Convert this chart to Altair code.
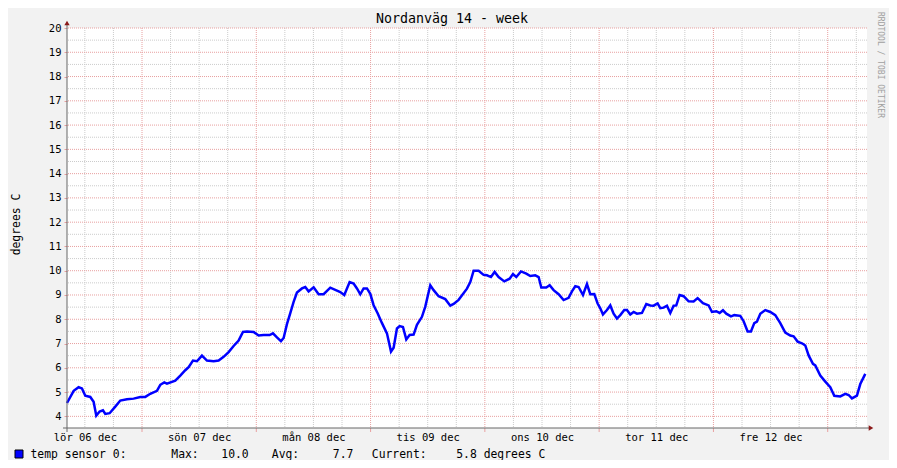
import json
import altair as alt
import pandas as pd

# ---------------- data ----------------
hours = [0, 1.4, 2.44, 3.14, 3.84, 4.89, 5.59, 6.15, 6.85, 7.55, 8.04, 8.95, 10.14, 11.19,
         12.59, 13.99, 15.39, 16.44, 17.49, 18.89, 19.59, 20.43, 20.99, 22.74, 23.79, 24.84,
         25.54, 26.45, 27.29, 28.34, 29.39, 30.79, 31.84, 32.89, 33.94, 34.99, 36.04, 36.95,
         37.79, 39.19, 40.24, 41.29, 42.55, 43.25, 44.09, 44.93, 45.49, 46.19, 46.89, 47.59,
         48.29, 49.34, 50.04, 50.74, 51.79, 52.84, 53.89, 55.29, 56.69, 57.39, 58.23, 59.35,
         60.19, 60.89, 61.59, 62.29, 62.99, 63.69, 64.39, 65.23, 66.15, 67.19, 68.04, 68.59,
         69.29, 69.85, 70.55, 71.25, 71.95, 72.79, 73.49, 74.54, 75.24, 76.29, 76.99, 78.04,
         79.44, 80.49, 81.19, 82.24, 83.99, 84.69, 85.39, 86.44, 87.49, 88.19, 89.03, 89.8,
         90.64, 91.83, 92.95, 93.65, 94.35, 95.33, 96.45, 97.29, 98.34, 99.04, 99.6, 100.65,
         101.35, 102.19, 103.24, 104.29, 105.34, 106.04, 106.74, 107.44, 108.35, 109.19,
         109.89, 110.73, 111.43, 111.99, 112.55, 113.39, 114.09, 114.79, 115.49, 116.19,
         117.03, 117.59, 118.29, 118.99, 119.69, 120.74, 121.65, 122.49, 123.19, 124.03,
         124.59, 125.29, 125.99, 126.69, 127.39, 127.95, 128.65, 129.49, 130.54, 131.59,
         132.43, 133.55, 134.74, 135.44, 136.35, 137.05, 137.75, 138.45, 139.43, 140.13,
         141.39, 142.09, 142.93, 143.63, 144.33, 144.89, 145.59, 146.64, 147.69, 148.74,
         149.79, 150.84, 151.89, 152.59, 153.43, 154.34, 155.04, 155.74, 156.65, 157.14,
         158.19, 159.24, 160.29, 161.13, 162.39, 163.44, 164.14, 164.84, 165.89, 166.59, 167.64]
temps = [4.55, 5.05, 5.2, 5.15, 4.85, 4.8, 4.6, 4.03, 4.2, 4.25, 4.1, 4.13, 4.4, 4.65,
         4.7, 4.73, 4.8, 4.8, 4.93, 5.05, 5.3, 5.4, 5.35, 5.47, 5.68, 5.9,
         6.03, 6.3, 6.27, 6.5, 6.3, 6.27, 6.3, 6.45, 6.65, 6.9, 7.12, 7.48,
         7.5, 7.48, 7.33, 7.35, 7.35, 7.42, 7.25, 7.1, 7.23, 7.8, 8.25, 8.72,
         9.1, 9.27, 9.33, 9.15, 9.32, 9.03, 9.03, 9.3, 9.18, 9.12, 9.0, 9.53,
         9.47, 9.27, 9.03, 9.27, 9.27, 9.05, 8.58, 8.25, 7.84, 7.42, 6.67, 6.83,
         7.62, 7.72, 7.68, 7.17, 7.35, 7.37, 7.77, 8.1, 8.52, 9.4, 9.2, 8.95,
         8.83, 8.56, 8.63, 8.8, 9.26, 9.53, 10.0, 10.0, 9.83, 9.81, 9.74, 9.95,
         9.74, 9.56, 9.67, 9.86, 9.74, 9.97, 9.88, 9.78, 9.81, 9.74, 9.31, 9.31,
         9.4, 9.2, 9.03, 8.79, 8.88, 9.15, 9.36, 9.33, 9.0, 9.45,
         9.03, 9.04, 8.65, 8.45, 8.2, 8.38, 8.57, 8.23, 8.03, 8.17,
         8.38, 8.38, 8.2, 8.3, 8.23, 8.26, 8.63, 8.57, 8.56, 8.65,
         8.46, 8.48, 8.56, 8.26, 8.56, 8.57, 9.0, 8.95, 8.74, 8.73,
         8.87, 8.66, 8.57, 8.3, 8.33, 8.26, 8.37, 8.23, 8.12, 8.17,
         8.14, 7.92, 7.5, 7.5, 7.84, 7.9, 8.23, 8.38, 8.3, 8.17,
         7.84, 7.45, 7.33, 7.3, 7.08, 7.01, 6.92, 6.51, 6.16, 6.1,
         5.68, 5.43, 5.2, 4.85, 4.82, 4.93, 4.88, 4.74, 4.85, 5.33, 5.75]

day_labels = ["lör 06 dec", "sön 07 dec", "mån 08 dec", "tis 09 dec",
              "ons 10 dec", "tor 11 dec", "fre 12 dec"]
first_midnight = 15.75          # hours after the graph start
span_hours = 168
y_min, y_max = 3.52, 20
y_ticks = list(range(4, 21))

title_text = "Nordanväg 14 - week"
unit = "degrees C"
series_name = "temp sensor 0:"
stat_names = ["Max:", "Avg:", "Current:"]
stat_values = [10.0, 7.7, 5.8]
watermark = "RRDTOOL / TOBI OETIKER"

# ---------------- derived ----------------
W, H = 800, 400
FONT = "DejaVu Sans Mono"
MAJOR = "#E8A0A0"
MINOR = "#CCCCCC"
AXIS = "#666666"
ARROW = "#8B1A1A"

noons = [first_midnight - 12 + 24 * i for i in range(len(day_labels))]
midnights = [first_midnight + 24 * i for i in range(7) if first_midnight + 24 * i < span_hours]
six = []
h = first_midnight - 12
while h < span_hours:
    if h > 0 and h not in midnights:
        six.append(h)
    h += 6
h_major = y_ticks
h_minor = [v + 0.5 for v in y_ticks[:-1]]

xs = alt.Scale(domain=[0, span_hours], nice=False, zero=False)
ys = alt.Scale(domain=[y_min, y_max], nice=False, zero=False)

df = pd.DataFrame({"h": hours, "t": temps})

label_expr = (json.dumps(day_labels, ensure_ascii=False)
              + f"[round((datum.value - {noons[0]}) / 24)]")

x_axis = alt.Axis(values=noons, labelExpr=label_expr, title=None, grid=False, ticks=False,
                  domain=False, labelFont=FONT, labelFontSize=10.5, labelColor="black",
                  labelPadding=4, labelFlush=False, labelOverlap=False)
y_axis = alt.Axis(values=y_ticks, title=unit, grid=False, domain=False, ticks=True,
                  tickSize=3, tickColor=MAJOR, labelFont=FONT, labelFontSize=10.5,
                  labelColor="black", labelPadding=3, titleFont=FONT, titleFontSize=11.4,
                  titleFontWeight="normal", titleColor="black", titleAngle=270,
                  titleX=-51, titleY=196, titleAlign="center", titleBaseline="middle")


def one():
    return pd.DataFrame({"k": [0]})


def vrules(vals, color):
    return alt.Chart(pd.DataFrame({"h": vals})).mark_rule(
        color=color, strokeDash=[1, 1], strokeWidth=1
    ).encode(x=alt.X("h:Q", scale=xs, axis=x_axis))


def hrules(vals, color):
    return alt.Chart(pd.DataFrame({"t": vals})).mark_rule(
        color=color, strokeDash=[1, 1], strokeWidth=1
    ).encode(y=alt.Y("t:Q", scale=ys, axis=y_axis))


def txt(s, x, y, size=11.4, align="left", color="black", angle=0):
    kw = dict(text=s, font=FONT, fontSize=size, align=align, baseline="middle", color=color)
    if angle:
        kw["angle"] = angle
    return alt.Chart(one()).mark_text(**kw).encode(x=alt.value(x), y=alt.value(y))


line = alt.Chart(df).mark_line(color="#0000FF", strokeWidth=2.5).encode(
    x=alt.X("h:Q", scale=xs, axis=x_axis),
    y=alt.Y("t:Q", scale=ys, axis=y_axis),
)

x_ticks = alt.Chart(pd.DataFrame({"h": midnights})).mark_rule(color=MAJOR).encode(
    x=alt.X("h:Q", scale=xs, axis=x_axis), y=alt.value(H), y2=alt.value(H + 4))

y_axis_line = alt.Chart(one()).mark_rule(color=AXIS).encode(
    x=alt.value(0), y=alt.value(-5), y2=alt.value(H + 4))
x_axis_line = alt.Chart(one()).mark_rule(color=AXIS).encode(
    y=alt.value(H), x=alt.value(-4), x2=alt.value(W + 3))

arrow_up = alt.Chart(one()).mark_point(shape="triangle-up", filled=True, size=28,
                                       color=ARROW, opacity=1).encode(
    x=alt.value(0), y=alt.value(-5))
arrow_right = alt.Chart(one()).mark_point(shape="triangle-right", filled=True, size=28,
                                          color=ARROW, opacity=1).encode(
    x=alt.value(W + 4), y=alt.value(H))

legend_box = alt.Chart(one()).mark_square(size=64, color="#0000FF", stroke="black",
                                          strokeWidth=1, opacity=1).encode(
    x=alt.value(-48), y=alt.value(426))

legend_y = 426.5
layers = [
    vrules(six, MINOR), hrules(h_minor, MINOR),
    vrules(midnights, MAJOR), hrules(h_major, MAJOR),
    line, x_ticks, y_axis_line, x_axis_line, arrow_up, arrow_right,
    txt(title_text, 385, -9, size=13.3, align="center"),
    txt(watermark, 813, 37, size=8, align="center", color="#A0A0A0", angle=90),
    legend_box,
    txt(series_name, -36.5, legend_y),
    txt(stat_names[0], 104.3, legend_y),
    txt(f"{stat_values[0]:.1f}", 154.3, legend_y),
    txt(stat_names[1], 204.8, legend_y),
    txt(f"{stat_values[1]:.1f}", 265.8, legend_y),
    txt(stat_names[2], 304.8, legend_y),
    txt(f"{stat_values[2]:.1f} {unit}", 389.2, legend_y),
]

chart = alt.layer(*layers).properties(
    width=W, height=H,
    padding={"left": 59, "top": 20, "right": 22, "bottom": 32},
    autosize=alt.AutoSizeParams(type="none"),
    background="#F2F2F2",
).configure_view(stroke=None, fill="white")

chart.save("out.html", embed_options={"renderer": "svg", "actions": False})
